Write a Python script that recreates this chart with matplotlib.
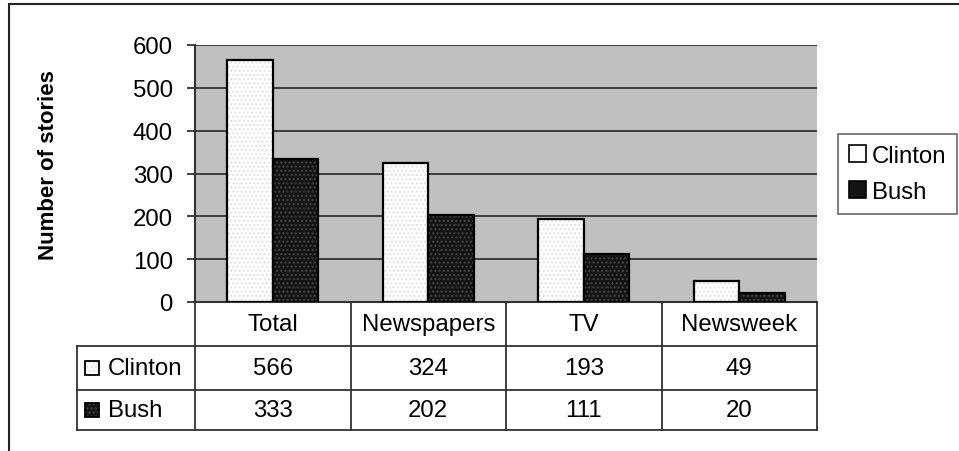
import matplotlib
matplotlib.use("Agg")
import matplotlib.pyplot as plt
from matplotlib.patches import Rectangle
from matplotlib.transforms import blended_transform_factory
import numpy as np

plt.rcParams['font.family'] = ['Liberation Sans', 'DejaVu Sans']

# data
categories = ["Total", "Newspapers", "TV", "Newsweek"]
clinton = [566, 324, 193, 49]
bush = [333, 202, 111, 20]
series_names = ["Clinton", "Bush"]
yticks = [0, 100, 200, 300, 400, 500, 600]

W, H = 959, 452
fs = 17.3
fig = plt.figure(figsize=(W/100, H/100), dpi=100)
fig.patch.set_facecolor("white")

# outer frame (extends past right/bottom edges)
fig.add_artist(Rectangle((9/W, -0.1), 1.2, 1 - 5/H + 0.1, transform=fig.transFigure,
                         fill=False, edgecolor="#222222", lw=1.5))

# plot area in pixel geometry
left, right, top, bottom = 195, 817, 46, 303
ax = fig.add_axes([left/W, 1 - bottom/H, (right-left)/W, (bottom-top)/H])
ax.set_facecolor("#c0c0c0")

x = np.arange(len(categories))
bw = 0.293
clin_hatch = "#e2e2e2"
bush_hatch = "#454545"
ax.bar(x - bw/2, clinton, bw, facecolor="white", hatch="....", edgecolor=clin_hatch, linewidth=0, zorder=3)
ax.bar(x + bw/2, bush, bw, facecolor="#141414", hatch="....", edgecolor=bush_hatch, linewidth=0, zorder=3)
ax.bar(x - bw/2, clinton, bw, fill=False, edgecolor="black", linewidth=1.6, zorder=4)
ax.bar(x + bw/2, bush, bw, fill=False, edgecolor="black", linewidth=1.6, zorder=4)

ax.set_xlim(-0.5, len(categories) - 0.5)
ax.set_ylim(0, 600)
ax.set_yticks(yticks)
ax.set_yticklabels([str(v) for v in yticks], fontsize=fs)
ax.tick_params(axis="y", direction="out", length=6, width=1.3, color="#333333", pad=10)
ax.set_xticks([])
ax.grid(axis="y", color="#333333", linewidth=1.3, zorder=1)
ax.set_axisbelow(True)
for s in ["top", "right"]:
    ax.spines[s].set_visible(False)
ax.spines["left"].set_color("#333333")
ax.spines["left"].set_linewidth(1.5)
ax.spines["bottom"].set_color("#333333")
ax.spines["bottom"].set_linewidth(1.5)

fig.text(49/W, 1 - 165/H, "Number of stories", rotation=90, fontsize=16,
         fontweight="bold", ha="center", va="center")

# data table under the axes
trans = blended_transform_factory(ax.transData, ax.transAxes)
ah = bottom - top
def yax(py):
    return -(py - bottom) / ah
tab_left = -0.5 - (left - 77) / ((right - left) / len(categories))
row_lines = [347, 391, 431]
lc = "#333333"
lw = 1.3
for py in row_lines:
    ax.plot([tab_left, len(categories) - 0.5], [yax(py)] * 2, color=lc, lw=lw,
            transform=trans, clip_on=False)
for xv in np.arange(-0.5, len(categories), 1.0):
    ax.plot([xv, xv], [0, yax(431)], color=lc, lw=lw, transform=trans, clip_on=False)
ax.plot([tab_left, tab_left], [yax(347), yax(431)], color=lc, lw=lw, transform=trans, clip_on=False)

for i, c in enumerate(categories):
    ax.text(i, yax(325), c, fontsize=fs, ha="center", va="center", transform=trans)
    ax.text(i, yax(369), str(clinton[i]), fontsize=fs, ha="center", va="center", transform=trans)
    ax.text(i, yax(411), str(bush[i]), fontsize=fs, ha="center", va="center", transform=trans)

# row labels with legend keys
unit = (right - left) / len(categories)
for name, cy, fc, hc in [(series_names[0], 369, "white", clin_hatch),
                         (series_names[1], 411, "#141414", bush_hatch)]:
    kx = tab_left + 8 / unit
    ax.add_patch(Rectangle((kx, yax(cy + 7)), 14 / unit, 14 / ah, transform=trans,
                           facecolor=fc, hatch="....", edgecolor=hc, lw=0, clip_on=False))
    ax.add_patch(Rectangle((kx, yax(cy + 7)), 14 / unit, 14 / ah, transform=trans,
                           fill=False, edgecolor="black", lw=1.3, clip_on=False))
    ax.text(tab_left + 31 / unit, yax(cy), name, fontsize=fs, ha="left", va="center",
            transform=trans)

# legend box on the right
plt.rcParams['hatch.color'] = clin_hatch
h1 = Rectangle((0, 0), 1, 1, facecolor="white", edgecolor="black", lw=1.2)
h2 = Rectangle((0, 0), 1, 1, facecolor="#141414", edgecolor="black", lw=1.2)
leg = fig.legend([h1, h2], series_names, loc="upper left",
                 bbox_to_anchor=(838/W, 1 - 135/H), fontsize=fs, frameon=True,
                 fancybox=False, edgecolor="#444444", handlelength=0.7, handleheight=0.7,
                 handletextpad=0.25, borderpad=0.45, labelspacing=0.6, borderaxespad=0)
leg.get_frame().set_linewidth(1.2)

fig.savefig("out.png", dpi=100)
